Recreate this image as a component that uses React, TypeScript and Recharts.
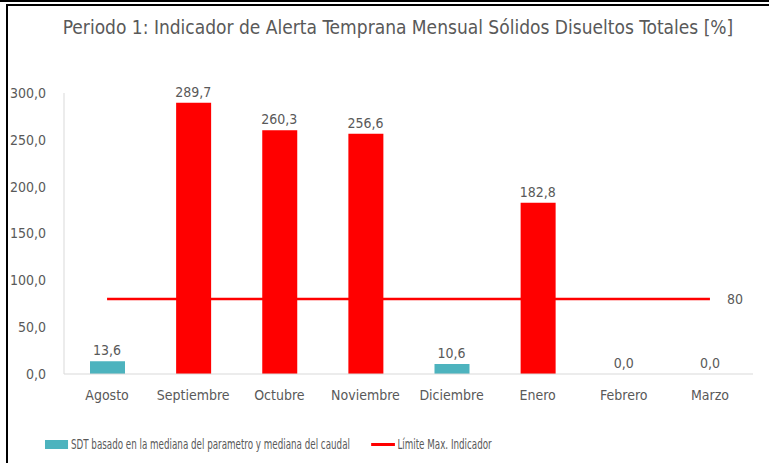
import { ComposedChart, Bar, Line, XAxis, YAxis, Cell, LabelList, Legend } from 'recharts';

const months = ['Agosto', 'Septiembre', 'Octubre', 'Noviembre', 'Diciembre', 'Enero', 'Febrero', 'Marzo'];
const sdtValues = [13.6, 289.7, 260.3, 256.6, 10.6, 182.8, 0, 0];
const limitValues = [80, 80, 80, 80, 80, 80, 80, 80];
const yTicks = [0, 50, 100, 150, 200, 250, 300];

const data = months.map((month, i) => ({ month, sdt: sdtValues[i], limit: limitValues[i] }));

const TEAL = '#4db3be';
const RED = '#ff0000';
const GREY = '#595959';
const FONT = "'Liberation Sans Narrow', 'DejaVu Sans Condensed', Lato, sans-serif";

const fmt = (v: number) => v.toFixed(1).replace('.', ',');

const LimitLabel = (props: any) => {
  const { x, y, index } = props;
  if (index !== months.length - 1) return null;
  return (
    <text x={x + 17} y={y} dy={5} fill={GREY} fontSize={14} fontFamily={FONT}>
      {limitValues[index]}
    </text>
  );
};

const LegendContent = () => (
  <div
    style={{
      display: 'flex',
      alignItems: 'center',
      fontFamily: FONT,
      fontSize: 13.5,
      color: GREY,
      whiteSpace: 'nowrap',
      transform: 'scaleX(0.72)',
      transformOrigin: 'left center',
    }}
  >
    <span style={{ width: 32, height: 9, background: TEAL, marginRight: 4 }} />
    <span>SDT basado en la mediana del parametro y mediana del caudal</span>
    <span style={{ width: 33, height: 3, background: RED, marginLeft: 29, marginRight: 4 }} />
    <span>Límite Max. Indicador</span>
  </div>
);

const App = () => (
  <div style={{ position: 'absolute', left: 0, top: 0, width: 769, height: 463, background: '#fff', overflow: 'hidden' }}>
    <div style={{ position: 'absolute', left: 0, top: 0, width: 769, height: 2, background: '#000' }} />
    <div style={{ position: 'absolute', left: 6, top: 4, width: 800, height: 500, borderLeft: '2px solid #000', borderTop: '2px solid #000' }} />
    <div
      style={{
        position: 'absolute',
        left: 0,
        top: 16,
        width: 796,
        textAlign: 'center',
        fontFamily: FONT,
        fontSize: 19,
        color: GREY,
      }}
    >
      Periodo 1: Indicador de Alerta Temprana Mensual Sólidos Disueltos Totales [%]
    </div>
    <ComposedChart
      width={769}
      height={463}
      data={data}
      margin={{ top: 93, right: 16, left: 0, bottom: 43 }}
      style={{ position: 'absolute', left: 0, top: 0 }}
    >
      <XAxis
        dataKey="month"
        tickLine={false}
        axisLine={{ stroke: '#d9d9d9' }}
        tickMargin={10}
        height={30}
        interval={0}
        tick={{ fill: GREY, fontSize: 14, fontFamily: FONT }}
      />
      <YAxis
        domain={[0, 300]}
        ticks={yTicks}
        width={64}
        tickLine={false}
        axisLine={{ stroke: '#d9d9d9' }}
        tickFormatter={fmt}
        tickMargin={12}
        tick={{ fill: GREY, fontSize: 14, fontFamily: FONT }}
      />
      <Legend
        content={<LegendContent />}
        wrapperStyle={{ position: 'absolute', left: 45, top: 436, width: 'auto' }}
      />
      <Bar dataKey="sdt" barSize={35} isAnimationActive={false}>
        {data.map((d, i) => (
          <Cell key={i} fill={d.sdt > d.limit ? RED : TEAL} />
        ))}
      </Bar>
      <Line
        dataKey="limit"
        stroke={RED}
        strokeWidth={2.5}
        dot={false}
        activeDot={false}
        isAnimationActive={false}
      >
        <LabelList dataKey="limit" content={<LimitLabel />} />
      </Line>
      {/* invisible series carrying the value labels, so zero values get one too */}
      <Line
        dataKey="sdt"
        stroke="none"
        dot={false}
        activeDot={false}
        legendType="none"
        isAnimationActive={false}
      >
        <LabelList
          dataKey="sdt"
          position="top"
          offset={6}
          formatter={(v: any) => fmt(Number(v))}
          fill={GREY}
          fontSize={14}
          fontFamily={FONT}
        />
      </Line>
    </ComposedChart>
  </div>
);

export default App;
